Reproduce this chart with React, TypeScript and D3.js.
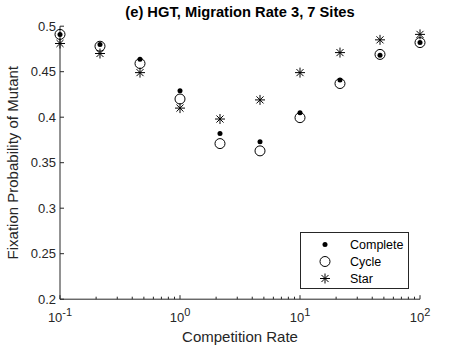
import React from "react";
import * as d3 from "d3";

const rates = [0.1, 0.2154, 0.4642, 1, 2.154, 4.642, 10, 21.54, 46.42, 100];
const complete = [0.491, 0.48, 0.4636, 0.429, 0.382, 0.373, 0.405, 0.441, 0.468, 0.482];
const cycle = [0.491, 0.478, 0.459, 0.42, 0.371, 0.363, 0.3995, 0.437, 0.469, 0.482];
const star = [0.481, 0.47, 0.449, 0.41, 0.398, 0.419, 0.449, 0.471, 0.485, 0.491];
const yTicks = [0.2, 0.25, 0.3, 0.35, 0.4, 0.45, 0.5];
const xTickExps = [-1, 0, 1, 2];
const legendLabels = ["Complete", "Cycle", "Star"];

const W = 464, H = 348;
const L = 60, R = 420, T = 26.2, B = 299.2;
const font = "'Liberation Sans', Arial, Helvetica, sans-serif";
const axisColor = "#262626";

function StarMark({ x, y, r = 5 }: { x: number; y: number; r?: number }) {
  const d = r * 0.707;
  return (
    <g stroke="#000" strokeWidth={1}>
      <line x1={x - r} y1={y} x2={x + r} y2={y} />
      <line x1={x} y1={y - r} x2={x} y2={y + r} />
      <line x1={x - d} y1={y - d} x2={x + d} y2={y + d} />
      <line x1={x - d} y1={y + d} x2={x + d} y2={y - d} />
    </g>
  );
}

export default function App() {
  const x = d3.scaleLog().domain([0.1, 100]).range([L, R]);
  const y = d3.scaleLinear().domain([0.2, 0.5]).range([B, T]);
  const minor: number[] = [];
  for (let e = -1; e < 2; e++) for (let m = 2; m <= 9; m++) minor.push(m * Math.pow(10, e));

  return (
    <svg width={W} height={H} style={{ position: "absolute", left: 0, top: 0 }} fontFamily={font}>
      <rect width={W} height={H} fill="#fff" />
      <text x={240} y={17} textAnchor="middle" fontSize={14.7} fontWeight="bold" fill="#000">
        (e) HGT, Migration Rate 3, 7 Sites
      </text>
      {/* axes */}
      <line x1={L} y1={T} x2={L} y2={B} stroke={axisColor} />
      <line x1={L} y1={B} x2={R} y2={B} stroke={axisColor} />
      {yTicks.map((t) => (
        <g key={t}>
          <line x1={L} x2={L + 4} y1={y(t)} y2={y(t)} stroke={axisColor} />
          <text x={L - 4} y={y(t) + 4.5} textAnchor="end" fontSize={13} fill={axisColor}>
            {String(t)}
          </text>
        </g>
      ))}
      {minor.map((m) => (
        <line key={m} x1={x(m)} x2={x(m)} y1={B} y2={B - 2.5} stroke={axisColor} />
      ))}
      {xTickExps.map((e) => (
        <g key={e}>
          <line x1={x(Math.pow(10, e))} x2={x(Math.pow(10, e))} y1={B} y2={B - 4} stroke={axisColor} />
          <text x={x(Math.pow(10, e))} y={322} textAnchor="middle" fontSize={13} fill={axisColor}>
            10
            <tspan dy={-6} fontSize={11}>{String(e)}</tspan>
          </text>
        </g>
      ))}
      <text x={240} y={342} textAnchor="middle" fontSize={15} fill={axisColor}>
        Competition Rate
      </text>
      <text
        transform={`translate(18, ${(T + B) / 2}) rotate(-90)`}
        textAnchor="middle"
        fontSize={15}
        fill={axisColor}
      >
        Fixation Probability of Mutant
      </text>
      {/* data */}
      {rates.map((r, i) => (
        <g key={"s" + i}>
          <StarMark x={x(r)} y={y(star[i])} />
        </g>
      ))}
      {rates.map((r, i) => (
        <circle key={"c" + i} cx={x(r)} cy={y(cycle[i])} r={5} fill="none" stroke="#000" strokeWidth={1} />
      ))}
      {rates.map((r, i) => (
        <circle key={"d" + i} cx={x(r)} cy={y(complete[i])} r={2.5} fill="#000" />
      ))}
      {/* legend */}
      <rect x={300.5} y={232.5} width={108} height={56} fill="#fff" stroke={axisColor} />
      {legendLabels.map((lab, i) => {
        const ly = 244.5 + i * 17;
        return (
          <g key={lab}>
            {i === 0 && <circle cx={325} cy={ly} r={2.5} fill="#000" />}
            {i === 1 && <circle cx={325} cy={ly} r={5} fill="none" stroke="#000" />}
            {i === 2 && <StarMark x={325} y={ly} />}
            <text x={350} y={ly + 4.5} fontSize={12.5} fill="#000">
              {lab}
            </text>
          </g>
        );
      })}
    </svg>
  );
}
